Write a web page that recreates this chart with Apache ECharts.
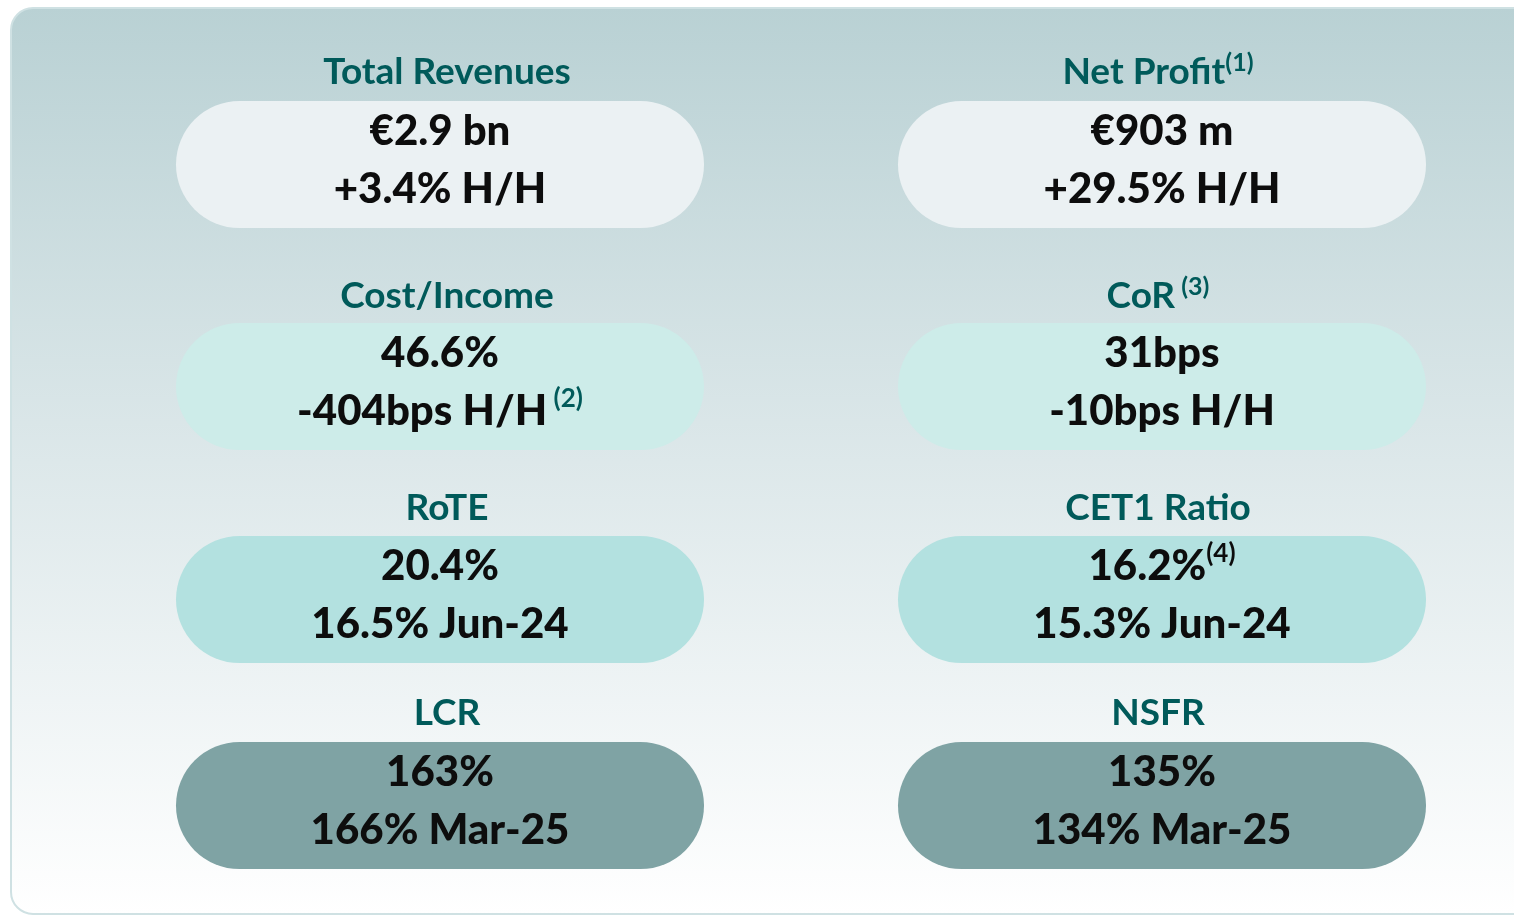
<!DOCTYPE html>
<html>
<head>
<meta charset="utf-8">
<script src="https://cdn.jsdelivr.net/npm/echarts@6/dist/echarts.min.js"></script>
<style>
  html, body { margin: 0; padding: 0; background: #ffffff; }
  #kpis { width: 1514px; height: 916px; }
</style>
</head>
<body>
<div id="kpis"></div>
<script>
// KPI tiles, read left-to-right, top-to-bottom
const titles = ['Total Revenues', 'Net Profit', 'Cost/Income', 'CoR', 'RoTE', 'CET1 Ratio', 'LCR', 'NSFR'];
const titleNotes = ['', '(1)', '', ' (3)', '', '', '', ''];
const headlines = ['€2.9 bn', '€903 m', '46.6%', '31bps', '20.4%', '16.2%', '163%', '135%'];
const headlineNotes = ['', '', '', '', '', '(4)', '', ''];
const comparisons = ['+3.4% H/H', '+29.5% H/H', '-404bps H/H', '-10bps H/H', '16.5% Jun-24', '15.3% Jun-24', '166% Mar-25', '134% Mar-25'];
const comparisonNotes = ['', '', ' (2)', '', '', '', '', ''];

const chart = echarts.init(document.getElementById('kpis'));

const TEAL = '#005a5a';
const FONT = 'Lato, "Open Sans", sans-serif';
const rowFills = ['#ebf1f3', '#cdece9', '#b3e1e0', '#7fa3a4'];
const colCenter = [440, 1162];
const titleCenter = [447, 1158];
const rowTop = [101, 323, 536, 742];
const titleY = [72, 296, 508, 713];
const pillW = 528, pillH = 127;

const supRich = (color, size) => ({
  fontSize: size, fontWeight: 'bold', fontFamily: FONT, fill: color, verticalAlign: 'top'
});

const elements = [{
  type: 'rect',
  shape: { x: 11, y: 8, width: 1540, height: 906, r: 22 },
  style: {
    fill: new echarts.graphic.LinearGradient(0, 0, 0, 1, [
      { offset: 0, color: '#b9d1d4' },
      { offset: 0.5, color: '#dde8ea' },
      { offset: 1, color: '#ffffff' }
    ]),
    stroke: '#cfe1e3',
    lineWidth: 2
  }
}];

titles.forEach((title, i) => {
  const col = i % 2;
  const row = Math.floor(i / 2);
  const cx = colCenter[col];
  const top = rowTop[row];

  elements.push({
    type: 'rect',
    shape: { x: cx - pillW / 2, y: top, width: pillW, height: pillH, r: pillH / 2 },
    style: { fill: rowFills[row] }
  });

  elements.push({
    type: 'text',
    x: titleCenter[col], y: titleY[row],
    style: {
      text: '{t|' + title + '}' + (titleNotes[i] ? '{s|' + titleNotes[i] + '}' : ''),
      align: 'center', verticalAlign: 'middle',
      rich: {
        t: { fontSize: 37, fontWeight: 'bold', fontFamily: FONT, fill: TEAL, lineHeight: 44 },
        s: supRich(TEAL, 25)
      }
    }
  });

  elements.push({
    type: 'text',
    x: cx, y: top + 30,
    style: {
      text: '{v|' + headlines[i] + '}' + (headlineNotes[i] ? '{s|' + headlineNotes[i] + '}' : ''),
      align: 'center', verticalAlign: 'middle',
      rich: {
        v: { fontSize: 42, fontWeight: 900, fontFamily: FONT, fill: '#0d0d0d', lineHeight: 50 },
        s: supRich('#0d0d0d', 26)
      }
    }
  });

  elements.push({
    type: 'text',
    x: cx, y: top + 88,
    style: {
      text: '{v|' + comparisons[i] + '}' + (comparisonNotes[i] ? '{s|' + comparisonNotes[i] + '}' : ''),
      align: 'center', verticalAlign: 'middle',
      rich: {
        v: { fontSize: 42, fontWeight: 900, fontFamily: FONT, fill: '#0d0d0d', lineHeight: 50 },
        s: supRich(TEAL, 26)
      }
    }
  });
});

chart.setOption({
  animation: false,
  graphic: { elements: elements }
});
</script>
</body>
</html>
